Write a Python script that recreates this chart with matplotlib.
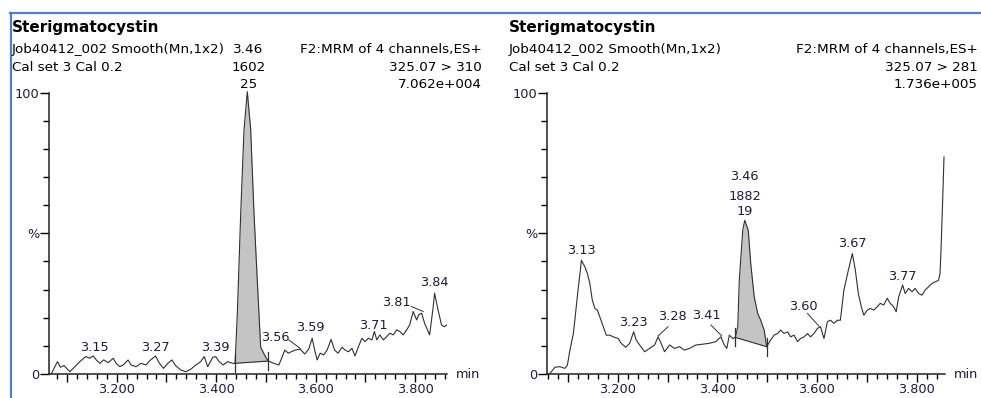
import numpy as np
import matplotlib
matplotlib.use("Agg")
import matplotlib.pyplot as plt
from matplotlib.ticker import MultipleLocator, FixedLocator, FuncFormatter
from matplotlib.lines import Line2D

# ---- channel 1: 325.07 > 310 (time in min, intensity in %)
left_t = [3.069, 3.081, 3.087, 3.094, 3.106, 3.116, 3.126, 3.138, 3.145, 3.153,
          3.159, 3.166, 3.174, 3.183, 3.193, 3.199, 3.206, 3.213, 3.223, 3.229,
          3.239, 3.249, 3.259, 3.267, 3.278, 3.286, 3.294, 3.303, 3.311, 3.319,
          3.329, 3.339, 3.349, 3.359, 3.369, 3.376, 3.383, 3.393, 3.399, 3.406,
          3.414, 3.423, 3.433, 3.438, 3.4426, 3.4494, 3.456, 3.4626, 3.4694, 3.476,
          3.4826, 3.486, 3.4894, 3.4994, 3.505, 3.516, 3.526, 3.533, 3.538, 3.545,
          3.551, 3.559, 3.569, 3.578, 3.586, 3.593, 3.598, 3.603, 3.609, 3.616,
          3.623, 3.631, 3.638, 3.645, 3.653, 3.659, 3.666, 3.673, 3.679, 3.686,
          3.693, 3.699, 3.706, 3.713, 3.718, 3.723, 3.729, 3.736, 3.743, 3.749,
          3.756, 3.763, 3.769, 3.776, 3.783, 3.789, 3.796, 3.803, 3.807, 3.813,
          3.819, 3.829, 3.836, 3.839, 3.846, 3.853, 3.859, 3.863]
left_y = [0.2, 4.4, 2.4, 3.0, 0.8, 2.6, 4.4, 6.2, 5.6, 6.4,
          5.0, 3.8, 5.0, 4.0, 5.6, 3.8, 2.6, 3.2, 5.0, 3.2,
          2.6, 3.8, 3.2, 4.8, 6.4, 3.8, 2.0, 3.8, 5.0, 2.9,
          1.4, 0.8, 1.7, 3.2, 4.4, 6.2, 2.6, 5.9, 6.2, 4.4,
          3.2, 4.4, 3.8, 3.8, 21.7, 57.3, 86.8, 100.3, 86.8, 57.3,
          33.5, 21.7, 9.6, 6.0, 4.6, 3.8, 3.2, 6.2, 8.5, 7.4,
          7.9, 8.5, 8.8, 7.1, 8.8, 12.7, 8.5, 5.0, 7.4, 6.8,
          8.5, 12.3, 8.5, 7.4, 9.5, 8.5, 7.9, 9.1, 6.4, 9.7,
          12.7, 11.5, 12.7, 12.1, 15.1, 12.1, 13.9, 12.1, 13.3, 14.5,
          13.9, 15.7, 15.1, 13.9, 15.7, 17.4, 22.2, 19.2, 21.0, 21.6,
          18.0, 13.9, 23.4, 28.7, 22.8, 17.4, 16.8, 17.4]
left_base_t = [3.438, 3.505]
left_base_y = [3.8, 4.6]
left_labels = ["3.15", "3.27", "3.39", "3.56", "3.59", "3.71", "3.81", "3.84"]
left_label_t = [3.156, 3.278, 3.398, 3.518, 3.589, 3.716, 3.762, 3.838]
left_label_y = [9.3, 9.3, 9.3, 12.8, 16.4, 17.4, 25.3, 32.4]
left_leaders = [None, None, None, (3.546, 12.1, 3.569, 9.1), None, None,
                (3.792, 24.0, 3.816, 22.2), None]

# ---- channel 2: 325.07 > 281
right_t = [3.057, 3.064, 3.074, 3.084, 3.094, 3.099, 3.104, 3.111, 3.116, 3.121,
           3.125, 3.127, 3.134, 3.139, 3.144, 3.149, 3.154, 3.159, 3.164, 3.171,
           3.177, 3.184, 3.191, 3.201, 3.207, 3.216, 3.224, 3.232, 3.237, 3.244,
           3.254, 3.264, 3.274, 3.281, 3.287, 3.294, 3.304, 3.314, 3.324, 3.334,
           3.344, 3.357, 3.371, 3.384, 3.397, 3.407, 3.414, 3.419, 3.424, 3.431,
           3.436, 3.441, 3.444, 3.451, 3.455, 3.462, 3.467, 3.474, 3.481, 3.487,
           3.494, 3.499, 3.507, 3.514, 3.521, 3.527, 3.534, 3.541, 3.547, 3.554,
           3.561, 3.567, 3.574, 3.581, 3.587, 3.594, 3.601, 3.607, 3.614, 3.621,
           3.627, 3.634, 3.641, 3.647, 3.654, 3.663, 3.671, 3.677, 3.683, 3.689,
           3.694, 3.701, 3.707, 3.714, 3.721, 3.727, 3.734, 3.741, 3.747, 3.754,
           3.759, 3.764, 3.772, 3.777, 3.784, 3.791, 3.797, 3.804, 3.811, 3.817,
           3.824, 3.831, 3.837, 3.844, 3.847, 3.849, 3.852, 3.855]
right_y = [0.0, 0.2, 2.4, 2.6, 2.0, 3.2, 8.5, 14.4, 22.7, 31.0,
           36.9, 40.4, 38.1, 35.7, 32.2, 26.2, 23.3, 22.7, 20.3, 16.8,
           13.8, 13.8, 13.2, 12.6, 10.9, 9.5, 10.9, 15.0, 12.1, 10.3,
           7.9, 9.1, 10.3, 13.2, 10.9, 7.9, 10.3, 9.1, 9.7, 8.5,
           9.1, 10.3, 10.6, 10.9, 11.5, 13.2, 10.3, 9.1, 13.8, 12.6,
           13.0, 16.8, 33.3, 51.1, 54.6, 51.1, 39.2, 27.4, 21.5, 19.1,
           15.6, 9.7, 12.1, 13.8, 14.4, 15.6, 14.4, 15.0, 13.2, 13.8,
           11.5, 12.6, 13.2, 14.4, 13.2, 14.4, 16.2, 16.8, 12.6, 18.6,
           19.1, 18.0, 19.1, 19.1, 29.8, 36.9, 42.8, 36.9, 28.6, 23.9,
           20.9, 22.7, 23.3, 22.7, 23.9, 25.1, 24.5, 26.9, 25.1, 23.9,
           22.1, 27.4, 31.6, 28.6, 30.4, 29.2, 30.4, 28.6, 28.0, 29.8,
           31.0, 32.2, 32.7, 33.3, 35.7, 44.0, 60.0, 77.1]
right_base_t = [3.436, 3.499]
right_base_y = [13.0, 9.7]
right_labels = ["3.13", "3.23", "3.28", "3.41", "3.60", "3.67", "3.77"]
right_label_t = [3.127, 3.232, 3.309, 3.377, 3.572, 3.671, 3.771]
right_label_y = [44.0, 18.2, 20.3, 20.9, 24.1, 46.3, 34.5]
right_leaders = [None, None, (3.301, 16.8, 3.281, 13.5), (3.387, 17.4, 3.409, 13.5),
                 (3.581, 21.5, 3.604, 17.0), None, None]
right_peak_text = ["3.46", "1882", "19"]
right_peak_text_y = [70.2, 63.1, 57.7]

# header text
title = "Sterigmatocystin"
info_left = ["Job40412_002 Smooth(Mn,1x2)", "Cal set 3 Cal 0.2"]
left_head_right = ["F2:MRM of 4 channels,ES+", "325.07 > 310", "7.062e+004"]
right_head_right = ["F2:MRM of 4 channels,ES+", "325.07 > 281", "1.736e+005"]
left_peak_text = ["3.46", "1602", "25"]

W, H = 981, 398
TXT = "#1c1c3c"
LINE = "#303030"

fig = plt.figure(figsize=(W / 100, H / 100), dpi=100)
fig.patch.set_facecolor("white")


def fx(px):
    return px / W


def fy(py):
    return 1 - py / H


def make_axes(x0, x1, xlim):
    ax = fig.add_axes([fx(x0), fy(374), fx(x1) - fx(x0), fy(92.5) - fy(374)])
    ax.set_xlim(*xlim)
    ax.set_ylim(0, 100)
    for s in ("top", "right"):
        ax.spines[s].set_visible(False)
    for s in ("left", "bottom"):
        ax.spines[s].set_linewidth(1.1)
        ax.spines[s].set_color("#222222")
    ax.yaxis.set_major_locator(FixedLocator([0, 50, 100]))
    ax.yaxis.set_major_formatter(FuncFormatter(lambda v, p: {0: "0", 50: "%", 100: "100"}.get(int(round(v)), "")))
    ax.yaxis.set_minor_locator(MultipleLocator(10))
    ax.xaxis.set_major_locator(MultipleLocator(0.1))
    ax.xaxis.set_minor_locator(MultipleLocator(0.02))
    ax.xaxis.set_major_formatter(FuncFormatter(
        lambda v, p: f"{v:.3f}" if int(round(v * 10)) % 2 == 0 else ""))
    ax.tick_params(axis="y", which="major", length=6.5, width=1, pad=0.5,
                   labelsize=9.3, labelcolor=TXT)
    ax.tick_params(axis="y", which="minor", length=4.3, width=1)
    ax.tick_params(axis="x", which="major", length=5.5, width=1, pad=1,
                   labelsize=9.3, labelcolor=TXT)
    ax.tick_params(axis="x", which="minor", length=3.5, width=1)
    return ax


def draw_panel(ax, t, y, base_t, base_y, labels, lab_t, lab_y, leaders):
    t = np.array(t)
    y = np.array(y)
    inside = (t >= base_t[0] - 1e-9) & (t <= base_t[1] + 1e-9)
    base = np.interp(t, base_t, base_y)
    ax.fill_between(t[inside], y[inside], base[inside], color="#c4c4c4",
                    lw=0, zorder=1, clip_on=False)
    ax.plot(t, y, color=LINE, lw=0.8, zorder=3, clip_on=False)
    ax.plot(base_t, base_y, color=LINE, lw=0.8, zorder=3)
    for bt, by in zip(base_t, base_y):
        ax.plot([bt, bt], [by - 3.2, by + 3.2], color=LINE, lw=0.9, zorder=3)
    for s, lt, ly, ld in zip(labels, lab_t, lab_y, leaders):
        ax.text(lt, ly, s, ha="center", va="center", fontsize=9.3, color=TXT,
                zorder=4)
        if ld is not None:
            ax.plot([ld[0], ld[2]], [ld[1], ld[3]], color=LINE, lw=0.7)
    ax.text(1.022, 0, "min", transform=ax.transAxes, ha="left", va="center",
            fontsize=9.3, color=TXT)


# left panel
axl = make_axes(49, 447, (3.064, 3.864))
draw_panel(axl, left_t, left_y, left_base_t, left_base_y, left_labels,
           left_label_t, left_label_y, left_leaders)

# right panel
axr = make_axes(547, 945, (3.058, 3.857))
draw_panel(axr, right_t, right_y, right_base_t, right_base_y, right_labels,
           right_label_t, right_label_y, right_leaders)
for s, ly in zip(right_peak_text, right_peak_text_y):
    axr.text(3.455, ly, s, ha="center", va="center", fontsize=9.3, color=TXT)

# headers
rows = [53, 71, 88]
for x0, xr, head in ((12, 482, left_head_right), (509, 978, right_head_right)):
    fig.text(fx(x0), fy(32), title, fontsize=11, fontweight="bold",
             color="black", va="baseline", ha="left")
    for s, r in zip(info_left, rows):
        fig.text(fx(x0), fy(r), s, fontsize=9.7, color="black",
                 va="baseline", ha="left")
    for s, r in zip(head, rows):
        fig.text(fx(xr), fy(r), s, fontsize=9.7, color="black",
                 va="baseline", ha="right")
for s, r in zip(left_peak_text, rows):
    fig.text(fx(248.3), fy(r), s, fontsize=9.7, color="black",
             va="baseline", ha="center")

# blue frame lines
fig.add_artist(Line2D([fx(10), 1.0], [fy(13), fy(13)], color="#4f81bd", lw=1.6))
fig.add_artist(Line2D([fx(11), fx(11)], [fy(13), 0.0], color="#4f81bd", lw=1.6))

fig.savefig("out.png", dpi=100)
